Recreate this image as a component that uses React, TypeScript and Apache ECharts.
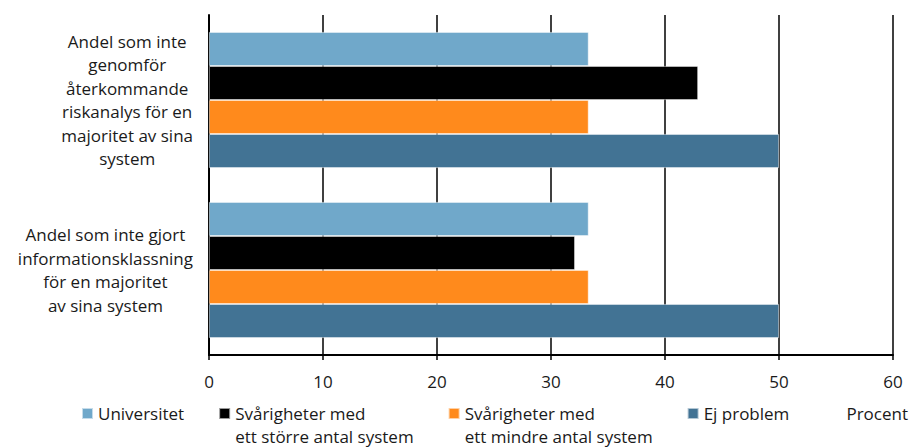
import React, { useEffect, useRef } from "react";
import * as echarts from "echarts";

const categories = [
  "Andel som inte\ngenomför\nåterkommande\nriskanalys för en\nmajoritet av sina\nsystem",
  "Andel som inte gjort\ninformationsklassning\nför en majoritet\nav sina system",
];
const seriesNames = [
  "Universitet",
  "Svårigheter med\nett större antal system",
  "Svårigheter med\nett mindre antal system",
  "Ej problem",
];
const universitet = [33.3, 33.3];
const storreAntal = [42.9, 32.1];
const mindreAntal = [33.3, 33.3];
const ejProblem = [50, 50];
const xTicks = [0, 10, 20, 30, 40, 50, 60];
const colors = ["#70A8CA", "#000000", "#FF8A1C", "#427394"];

const FONT = "Open Sans";

export default function App() {
  const ref = useRef<HTMLDivElement>(null);
  useEffect(() => {
    document.body.style.margin = "0";
    if (!ref.current) return;
    const chart = echarts.init(ref.current, undefined, { renderer: "svg" });
    const values = [universitet, storreAntal, mindreAntal, ejProblem];
    chart.setOption({
      animation: false,
      textStyle: { fontFamily: FONT },
      grid: { left: 209, right: 19, top: 15, bottom: 93, containLabel: false },
      xAxis: {
        type: "value",
        min: xTicks[0],
        max: xTicks[xTicks.length - 1],
        interval: 10,
        name: "Procent",
        nameLocation: "end",
        nameGap: 15,
        nameTextStyle: {
          fontFamily: FONT,
          fontSize: 17,
          color: "#1a1a1a",
          align: "right",
          verticalAlign: "top",
          padding: [50, 0, 0, 0],
        },
        axisLine: { show: true, lineStyle: { color: "#000", width: 2 } },
        axisTick: { show: true, length: 5, lineStyle: { color: "#000", width: 1.5 } },
        axisLabel: { fontFamily: FONT, fontSize: 17, color: "#1a1a1a", margin: 18 },
        splitLine: { show: true, lineStyle: { color: "#000", width: 1.5 } },
      },
      yAxis: {
        type: "category",
        data: categories,
        inverse: true,
        axisLine: { show: true, lineStyle: { color: "#000", width: 2 } },
        axisTick: { show: false },
        axisLabel: {
          fontFamily: FONT,
          fontSize: 17,
          color: "#1a1a1a",
          margin: 16,
          align: "right",
          lineHeight: 23.4,
          formatter: (v: string) =>
            v
              .split("\n")
              .map((l) => "{c|" + l + "}")
              .join("\n"),
          rich: {
            c: { align: "center", fontFamily: FONT, fontSize: 17, lineHeight: 23.4, color: "#1a1a1a" },
          },
        },
      },
      legend: {
        orient: "horizontal",
        left: 81,
        top: 379,
        padding: 0,
        itemWidth: 11,
        itemHeight: 11,
        itemGap: 34,
        icon: "rect",
        textStyle: { fontFamily: FONT, fontSize: 17, color: "#1a1a1a", lineHeight: 23 },
        formatter: (n: string) => (n.includes("\n") ? " \n" + n : n),
        data: seriesNames,
      },
      series: seriesNames.map((name, i) => ({
        type: "bar",
        name,
        data: values[i],
        barCategoryGap: "20%",
        barGap: "0%",
        itemStyle: {
          color: colors[i],
          borderColor: "rgba(255,255,255,0.6)",
          borderWidth: 0.8,
        },
      })),
    });
    return () => chart.dispose();
  }, []);
  return <div ref={ref} style={{ width: 912, height: 448 }} />;
}
